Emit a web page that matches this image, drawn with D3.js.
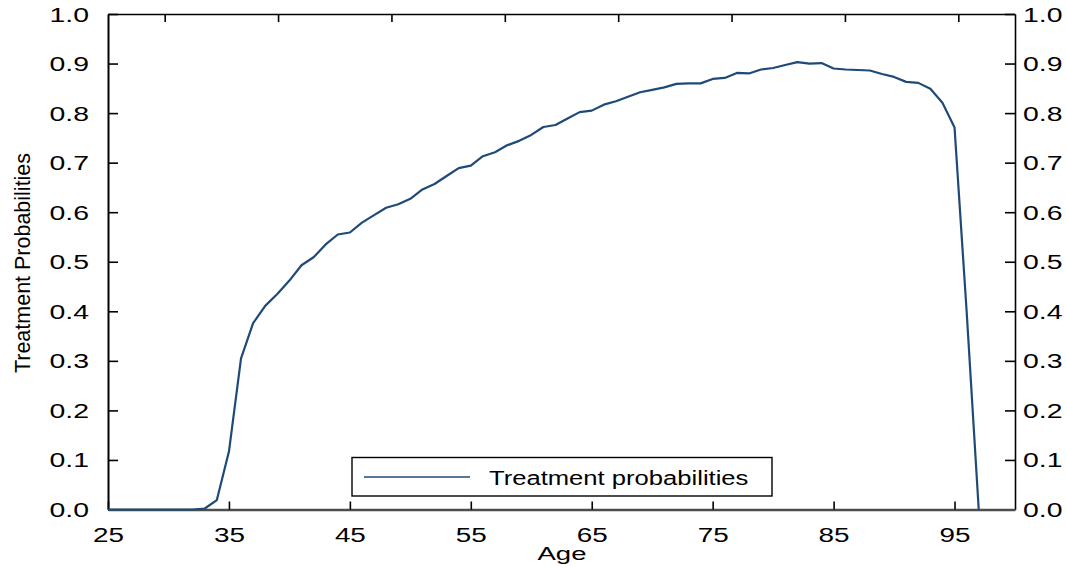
<!DOCTYPE html>
<html>
<head>
<meta charset="utf-8">
<script src="https://cdn.jsdelivr.net/npm/d3@7"></script>
<style>
  html, body { margin: 0; padding: 0; background: #fff; }
  svg { display: block; }
  text { font-family: "Liberation Sans", Arial, sans-serif; fill: #000; }
</style>
</head>
<body>
<svg id="chart" width="1066" height="567"></svg>
<script>
// Age (years)
const ages = [25, 26, 27, 28, 29, 30, 31, 32, 33, 34, 35, 36, 37, 38, 39, 40,
  41, 42, 43, 44, 45, 46, 47, 48, 49, 50, 51, 52, 53, 54, 55, 56, 57, 58, 59, 60,
  61, 62, 63, 64, 65, 66, 67, 68, 69, 70, 71, 72, 73, 74, 75, 76, 77, 78, 79, 80,
  81, 82, 83, 84, 85, 86, 87, 88, 89, 90, 91, 92, 93, 94, 95, 96, 97];

// Estimated treatment probability at each age
const treatmentProb = [0, 0, 0, 0, 0, 0, 0, 0, 0.002, 0.019, 0.117, 0.305, 0.376, 0.411, 0.435, 0.462,
  0.493, 0.509, 0.535, 0.555, 0.559, 0.579, 0.594, 0.609, 0.616, 0.627, 0.646, 0.657, 0.673, 0.689, 0.694, 0.713, 0.721, 0.735, 0.744, 0.756,
  0.772, 0.776, 0.789, 0.802, 0.805, 0.817, 0.824, 0.833, 0.842, 0.847, 0.852, 0.859, 0.860, 0.860, 0.869, 0.871, 0.881, 0.880, 0.888, 0.891,
  0.897, 0.903, 0.900, 0.901, 0.890, 0.888, 0.887, 0.886, 0.879, 0.873, 0.863, 0.861, 0.849, 0.821, 0.771, 0.400, 0.000];

const xTickValues = [25, 35, 45, 55, 65, 75, 85, 95];
const yTickValues = [0, 0.1, 0.2, 0.3, 0.4, 0.5, 0.6, 0.7, 0.8, 0.9, 1.0];
// Top frame ticks, as fractions of the frame width
const topTickValues = [0.0625, 0.1875, 0.3125, 0.4375, 0.5625, 0.6875, 0.8125, 0.9375];

const seriesName = "Treatment probabilities";
const xTitle = "Age";
const yTitle = "Treatment Probabilities";

const lineColor = "#1f4a77";
const plotLeft = 108, plotRight = 1015, plotTop = 14, plotBottom = 509.5;

const svg = d3.select("#chart");
svg.append("rect").attr("width", 1066).attr("height", 567).attr("fill", "#fff");

const x = d3.scaleLinear().domain([25, 100]).range([plotLeft, plotRight]);
const y = d3.scaleLinear().domain([0, 1]).range([plotBottom, plotTop]);
const xTop = d3.scaleLinear().domain([0, 1]).range([plotLeft, plotRight]);

// Top frame line with inward ticks
const gTop = svg.append("g").attr("transform", `translate(0,${plotTop})`)
  .call(d3.axisTop(xTop).tickValues(topTickValues).tickSizeInner(-8).tickSizeOuter(0).tickFormat(""));
gTop.select(".domain").attr("stroke", "#000").attr("stroke-width", 1.6);
gTop.selectAll(".tick line").attr("stroke", "#000").attr("stroke-width", 1.6);

// Left axis
const gLeft = svg.append("g").attr("transform", `translate(${plotLeft},0)`)
  .call(d3.axisLeft(y).tickValues(yTickValues).tickSizeInner(-10).tickSizeOuter(0).tickFormat(d3.format(".1f")));
gLeft.select(".domain").attr("stroke", "#000").attr("stroke-width", 2);
gLeft.selectAll(".tick line").attr("stroke", "#000").attr("stroke-width", 1.6);
gLeft.selectAll(".tick text")
  .attr("x", null).attr("dy", null)
  .attr("transform", "translate(-19,7) scale(1.42,1)")
  .attr("text-anchor", "end")
  .style("font-size", "20px")
  .attr("font-family", null);

// Right axis
const gRight = svg.append("g").attr("transform", `translate(${plotRight},0)`)
  .call(d3.axisRight(y).tickValues(yTickValues).tickSizeInner(-10).tickSizeOuter(0).tickFormat(d3.format(".1f")));
gRight.select(".domain").attr("stroke", "#000").attr("stroke-width", 1.6);
gRight.selectAll(".tick line").attr("stroke", "#000").attr("stroke-width", 1.6);
gRight.selectAll(".tick text")
  .attr("x", null).attr("dy", null)
  .attr("transform", "translate(8,7) scale(1.42,1)")
  .attr("text-anchor", "start")
  .style("font-size", "20px")
  .attr("font-family", null);

// Bottom axis
const gBottom = svg.append("g").attr("transform", `translate(0,${plotBottom})`)
  .call(d3.axisBottom(x).tickValues(xTickValues).tickSizeInner(-8).tickSizeOuter(0).tickFormat(d3.format("d")));
gBottom.select(".domain").attr("stroke", "#4d4d4d").attr("stroke-width", 2.6);
gBottom.selectAll(".tick line").attr("stroke", "#000").attr("stroke-width", 1.6);
gBottom.selectAll(".tick text")
  .attr("y", null).attr("dy", null)
  .attr("transform", "translate(0,32) scale(1.36,1)")
  .attr("text-anchor", "middle")
  .style("font-size", "20.5px")
  .attr("font-family", null);

// Axis titles
svg.append("text")
  .attr("transform", "translate(562,559.5) scale(1.45,1)")
  .attr("text-anchor", "middle")
  .style("font-size", "19px")
  .text(xTitle);

svg.append("text")
  .attr("transform", "translate(29.5,263) rotate(-90) scale(1,1.05)")
  .attr("text-anchor", "middle")
  .style("font-size", "21.5px")
  .text(yTitle);

// Series line
const data = ages.map((a, i) => ({ age: a, p: treatmentProb[i] }));
const line = d3.line().x(d => x(d.age)).y(d => y(d.p));
svg.append("path")
  .datum(data)
  .attr("fill", "none")
  .attr("stroke", lineColor)
  .attr("stroke-width", 2.2)
  .attr("stroke-linejoin", "round")
  .attr("d", line);

// Legend
const legend = svg.append("g");
legend.append("rect")
  .attr("x", 352).attr("y", 457.5).attr("width", 420).attr("height", 38.5)
  .attr("fill", "#fff").attr("stroke", "#000").attr("stroke-width", 1.4);
legend.append("line")
  .attr("x1", 364).attr("x2", 470).attr("y1", 477).attr("y2", 477)
  .attr("stroke", lineColor).attr("stroke-width", 1.6);
legend.append("text")
  .attr("transform", "translate(489,485) scale(1.28,1)")
  .style("font-size", "20px")
  .text(seriesName);
</script>
</body>
</html>
